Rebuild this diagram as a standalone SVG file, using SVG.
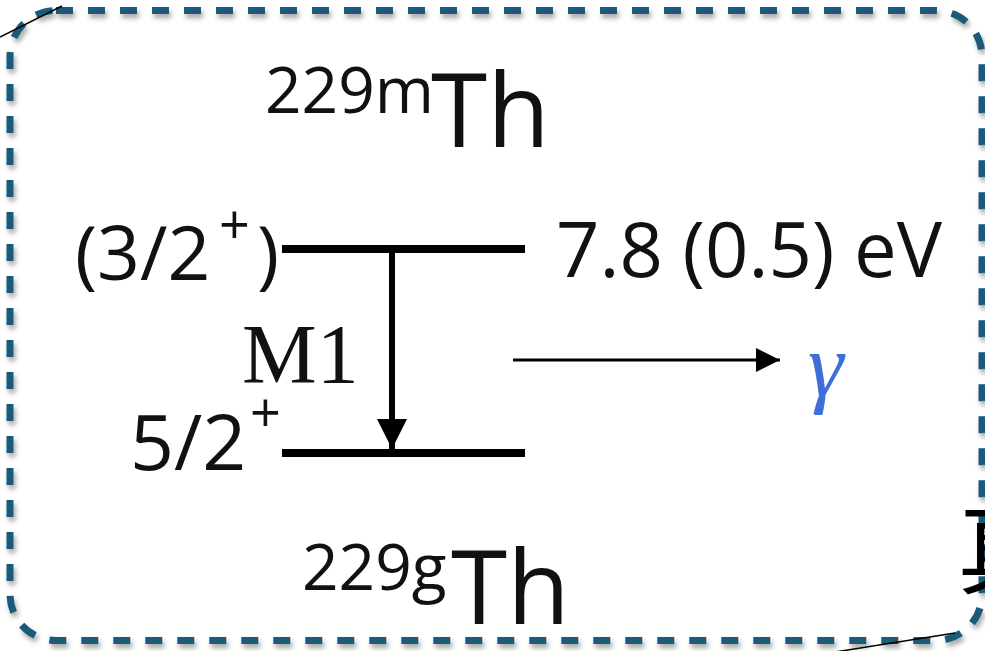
<svg xmlns="http://www.w3.org/2000/svg" width="985" height="651" viewBox="0 0 985 651">
<defs>
<style>
.t{font-family:"Open Sans","Noto Sans",sans-serif;fill:#111}
.lvl{stroke:#000;stroke-width:8;fill:none}
.thin{stroke:#000;stroke-width:1.5;fill:none}
</style>
<filter id="sh" x="-5%" y="-5%" width="110%" height="110%">
<feDropShadow dx="2" dy="4" stdDeviation="2.5" flood-color="#000" flood-opacity="0.35"/>
</filter>
<marker id="ah" viewBox="0 0 10 10" refX="10" refY="5" markerUnits="userSpaceOnUse" markerWidth="30" markerHeight="32" orient="auto">
<path d="M0,0 L10,5 L0,10 Z" fill="#000"/>
</marker>
<marker id="ah2" viewBox="0 0 10 10" refX="10" refY="5" markerUnits="userSpaceOnUse" markerWidth="28" markerHeight="24" orient="auto">
<path d="M0,0 L10,5 L0,10 Z" fill="#000"/>
</marker>
</defs>
<rect width="985" height="651" fill="#fff"/>
<g id="frame">
<rect x="10" y="10.5" width="972" height="630" rx="46" ry="46" fill="none" stroke="#1b5a7a" stroke-width="7" stroke-dasharray="17 15" filter="url(#sh)"/>
</g>
<g id="thin-lines">
<line class="thin" x1="0" y1="37" x2="62" y2="6"/>
<line class="thin" x1="835" y1="652" x2="955" y2="633"/>
</g>
<g id="node-229mTh">
<text class="t" x="265" y="113" font-size="64">229m</text>
<text class="t" x="431" y="147" font-size="102">Th</text>
</g>
<g id="node-upper-level">
<line class="lvl" x1="282" y1="249" x2="525" y2="249"/>
<text class="t" x="75" y="280" font-size="75">(3/2</text>
<text class="t" x="219" y="244" font-size="54">+</text>
<text class="t" x="257" y="280" font-size="75">)</text>
<text class="t" x="556" y="277" font-size="76">7.8 (0.5) eV</text>
</g>
<g id="node-lower-level">
<line class="lvl" x1="282" y1="453" x2="525" y2="453"/>
<text class="t" x="130" y="470" font-size="77">5/2</text>
<text class="t" x="250" y="432" font-size="54">+</text>
</g>
<g id="node-229gTh">
<text class="t" x="302" y="590" font-size="64">229g</text>
<text class="t" x="451" y="624" font-size="102">Th</text>
</g>
<g id="node-gamma">
<text x="808" y="396" font-family="Liberation Serif,serif" font-style="italic" font-size="90" fill="#3f6fd6">γ</text>
</g>
<g id="connectors">
<line x1="392" y1="249" x2="392" y2="449" stroke="#000" stroke-width="6" marker-end="url(#ah)"/>
<line x1="513" y1="360" x2="780" y2="360" stroke="#000" stroke-width="3" marker-end="url(#ah2)"/>
<text x="242" y="383" font-family="Liberation Serif,serif" font-size="84" fill="#111">M1</text>
</g>
<g id="node-cjk">
<text x="957" y="586" font-family="Noto Sans CJK SC,sans-serif" font-size="100" fill="#000">真</text>
</g>
</svg>
